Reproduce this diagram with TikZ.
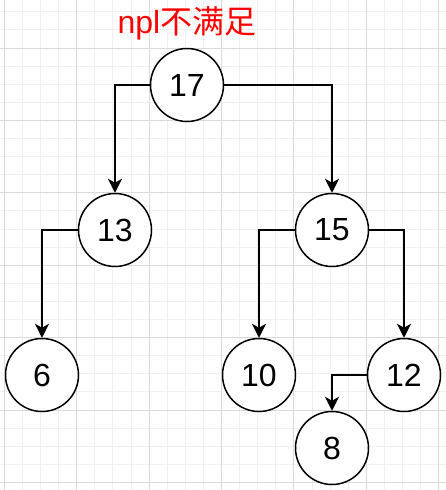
\documentclass[tikz,border=0pt]{standalone}
\usepackage{fontspec}
\setmainfont{Liberation Sans}
\newfontfamily\cjk{Noto Sans CJK SC}
\usepackage{tikz}
\usetikzlibrary{arrows.meta}
\definecolor{minorline}{RGB}{240,240,240}
\definecolor{majorline}{RGB}{218,218,218}
\newcommand{\defaultkeysize}{73pt}
\tikzstyle{keynode}=[draw, circle, fill=white, line width=1.5pt, inner sep=0, minimum size=\defaultkeysize,
                     font=\fontsize{32}{32}\selectfont]
\tikzstyle{child}=[line width=1.5pt, -{Stealth[length=14pt, width=14pt, inset=4pt]}]
\tikzstyle{heaptree}=[x=1pt, y=-1pt,
                      % Grid lines drawn behind the tree.
                      minorgrid/.style={draw=minorline, line width=1pt},
                      majorgrid/.style={draw=majorline, line width=1pt}]

\begin{document}
\begin{tikzpicture}[heaptree]
        \useasboundingbox (0, 0) rectangle (446, 490);
        \fill[white] (0, 0) rectangle (446, 490);
        \foreach \k in {0,...,24} \draw[minorgrid] (4.3+18.1*\k, 0) -- (4.3+18.1*\k, 490);
        \foreach \k in {0,...,26} \draw[minorgrid] (0, 11.8+18.1*\k) -- (446, 11.8+18.1*\k);
        \foreach \k in {0,...,6} \draw[majorgrid] (4.3+72.4*\k, 0) -- (4.3+72.4*\k, 490);
        \foreach \k in {0,...,6} \draw[majorgrid] (0, 48+72.4*\k) -- (446, 48+72.4*\k);
        \node[text=red, font=\fontsize{32}{32}\selectfont] (note) at (187, 23) {npl{\cjk 不满足}};
        \node[keynode] (k17) at (187, 85)  {17};
        \node[keynode] (k13) at (115, 230) {13};
        \node[keynode] (k15) at (332, 230) {15};
        \node[keynode] (k6)  at (42, 375)  {6};
        \node[keynode] (k10) at (259, 375) {10};
        \node[keynode] (k12) at (404, 375) {12};
        \node[keynode] (k8)  at (332, 448) {8};
        \draw[child] (k17.west) -| (k13.north);
        \draw[child] (k17.east) -| (k15.north);
        \draw[child] (k13.west) -| (k6.north);
        \draw[child] (k15.west) -| (k10.north);
        \draw[child] (k15.east) -| (k12.north);
        \draw[child] (k12.west) -| (k8.north);
    \end{tikzpicture}
\end{document}
